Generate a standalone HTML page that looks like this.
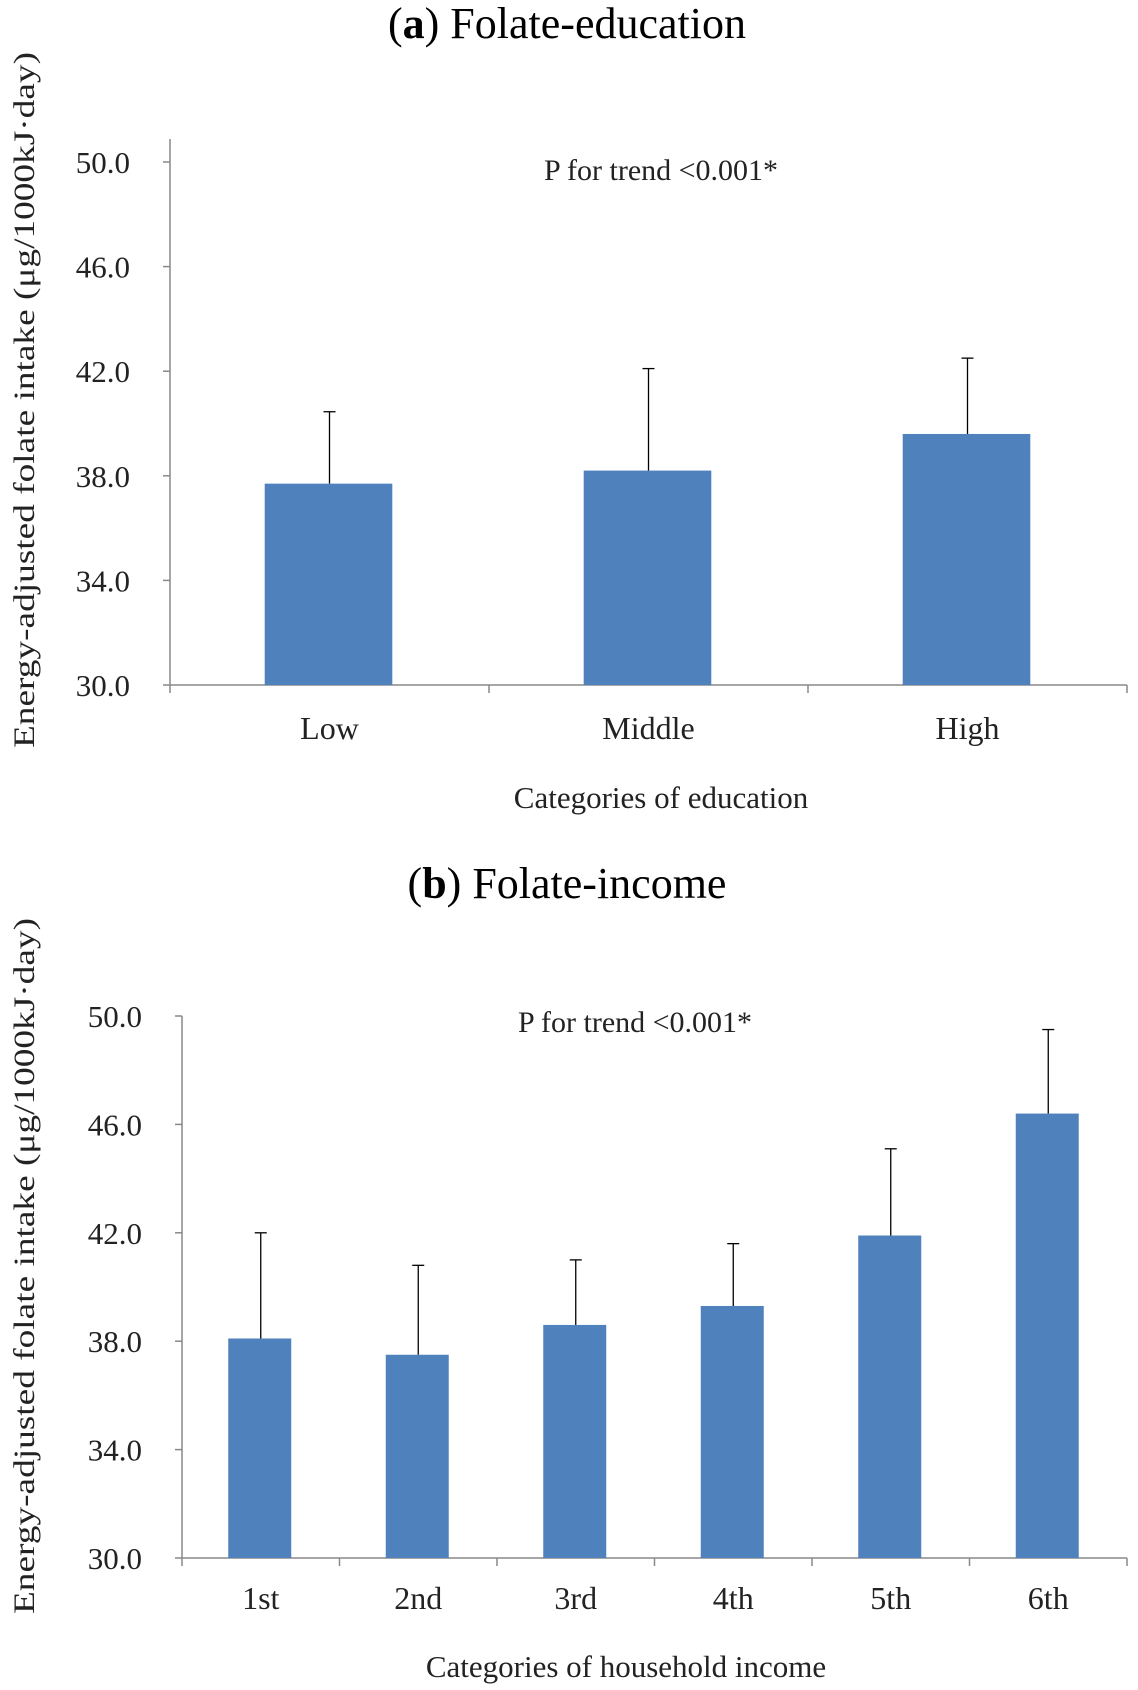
<!DOCTYPE html>
<html><head><meta charset="utf-8"><style>
html,body{margin:0;padding:0;background:#fff;}
svg{display:block;font-family:"Liberation Serif","Times New Roman",serif;}
</style></head><body>
<svg id="chart" width="1138" height="1690" viewBox="0 0 1138 1690"></svg>
<script>
const eduCategories = ["Low","Middle","High"];
const eduMeans = [37.7, 38.2, 39.6];
const eduErrTops = [40.45, 42.1, 42.5];
const incCategories = ["1st","2nd","3rd","4th","5th","6th"];
const incMeans = [38.1, 37.5, 38.6, 39.3, 41.9, 46.4];
const incErrTops = [42.0, 40.8, 41.0, 41.6, 45.1, 49.5];
const yTicks = [30.0, 34.0, 38.0, 42.0, 46.0, 50.0];

const NS = "http://www.w3.org/2000/svg";
const svg = document.getElementById('chart');
function mk(tag, attrs, parent, text){
  const e = document.createElementNS(NS, tag);
  for (const k in attrs) e.setAttribute(k, attrs[k]);
  if (text !== undefined) e.textContent = text;
  (parent || svg).appendChild(e);
  return e;
}

function panel(cfg){
  const g = mk('g', {});
  
  
  const yScale = v => cfg.y30 - (v - 30) / 20 * (cfg.y30 - cfg.y50);
  const n = cfg.cats.length;
  const bw = (cfg.xr - cfg.x0) / n;
  const xC = i => cfg.x0 + bw * (i + 0.5);

  const t = mk('text', {x: 567, y: cfg.titleY, 'text-anchor': 'middle', 'font-size': 44, fill: '#000'}, g);
  
  
  mk('tspan', {}, t, '(');
  mk('tspan', {'font-weight': 'bold'}, t, cfg.letter);
  mk('tspan', {}, t, ') ' + cfg.title);

  const ya = mk('line', {x1: cfg.x0, x2: cfg.x0, y1: cfg.axisTop, y2: cfg.y30, stroke: '#888', 'stroke-width': 1.5}, g);
  
  
  yTicks.forEach(v => {
    const y = yScale(v);
    mk('line', {x1: cfg.x0 - 7, x2: cfg.x0, y1: y, y2: y, stroke: '#888', 'stroke-width': 1.5}, g);
    const lb = mk('text', {x: cfg.x0 - 40, y: y + 11, 'text-anchor': 'end', 'font-size': 31, fill: '#222'}, g, v.toFixed(1));
    
    
  });
  const xa = mk('line', {x1: cfg.x0, x2: cfg.xr, y1: cfg.y30, y2: cfg.y30, stroke: '#888', 'stroke-width': 1.5}, g);
  
  
  for (let i = 0; i <= n; i++) {
    const x = cfg.x0 + bw * i;
    mk('line', {x1: x, x2: x, y1: cfg.y30, y2: cfg.y30 + 8, stroke: '#888', 'stroke-width': 1.5}, g);
  }
  cfg.cats.forEach((c, i) => {
    const w = bw * cfg.barFrac;
    const yt = yScale(cfg.means[i]);
    const ye = yScale(cfg.errs[i]);
    const el = mk('line', {x1: xC(i), x2: xC(i), y1: yt, y2: ye, stroke: '#000', 'stroke-width': 1.3}, g);
    
    
    mk('line', {x1: xC(i) - 6, x2: xC(i) + 6, y1: ye, y2: ye, stroke: '#000', 'stroke-width': 1.3}, g);
    const r = mk('rect', {x: xC(i) - w / 2 - 1, y: yt, width: w, height: cfg.y30 - yt, fill: '#4f81bd'}, g);
    
    
    const lb = mk('text', {x: xC(i), y: cfg.catY, 'text-anchor': 'middle', 'font-size': 32, fill: '#222'}, g, c);
    
    
  });
  const p = mk('text', {x: cfg.pX, y: cfg.pY, 'text-anchor': 'middle', 'font-size': 30, fill: '#222'}, g, 'P for trend <0.001*');
  
  
  const xt = mk('text', {x: cfg.xtX, y: cfg.xtY, 'text-anchor': 'middle', 'font-size': 31, fill: '#222'}, g, cfg.xTitle);
  
  
  const yt = mk('text', {x: 0, y: 0, 'text-anchor': 'middle', 'font-size': 30, fill: '#222', transform: `translate(34 ${cfg.ytY}) rotate(-90)`, textLength: 696, lengthAdjust: 'spacingAndGlyphs'}, g, 'Energy-adjusted folate intake (μg/1000kJ·day)');
  
  
}

panel({name: 'panel-a-education', letter: 'a', title: 'Folate-education', titleY: 38,
  x0: 170, xr: 1127, y50: 162, y30: 685, axisTop: 139, cats: eduCategories, means: eduMeans, errs: eduErrTops,
  barFrac: 0.4, catY: 739, pX: 661, pY: 180, xtX: 661, xtY: 808, xTitle: 'Categories of education', ytY: 400});
panel({name: 'panel-b-income', letter: 'b', title: 'Folate-income', titleY: 898,
  x0: 182, xr: 1127, y50: 1016, y30: 1558, axisTop: 1016, cats: incCategories, means: incMeans, errs: incErrTops,
  barFrac: 0.4, catY: 1609, pX: 635, pY: 1032, xtX: 626, xtY: 1677, xTitle: 'Categories of household income', ytY: 1266});
</script>
</body></html>
